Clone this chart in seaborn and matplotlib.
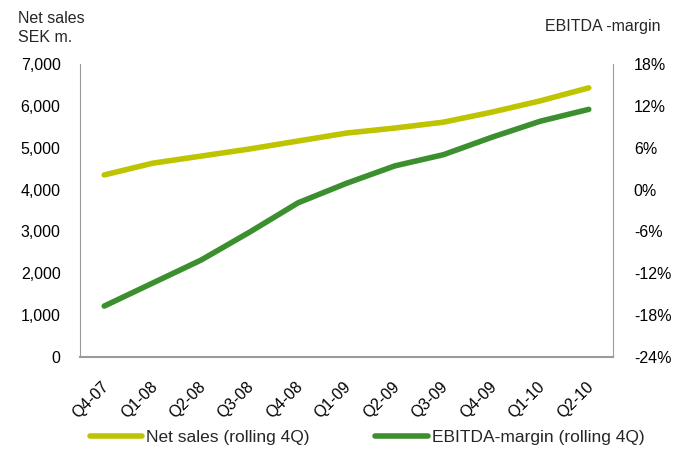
import matplotlib
matplotlib.use("Agg")
import matplotlib.pyplot as plt
import matplotlib.transforms as mtransforms
import seaborn as sns
import pandas as pd
from matplotlib.lines import Line2D
from matplotlib.ticker import FuncFormatter

quarters = ["Q4-07", "Q1-08", "Q2-08", "Q3-08", "Q4-08", "Q1-09",
            "Q2-09", "Q3-09", "Q4-09", "Q1-10", "Q2-10"]
net_sales = [4350, 4630, 4800, 4970, 5160, 5350, 5470, 5610, 5850, 6120, 6430]
ebitda_margin = [-16.7, -13.4, -10.1, -6.1, -1.9, 0.9, 3.4, 5.0, 7.5, 9.8, 11.5]

left_ticks = [0, 1000, 2000, 3000, 4000, 5000, 6000, 7000]
right_ticks = [-24, -18, -12, -6, 0, 6, 12, 18]

c_sales = "#BFC400"
c_ebit = "#3C8F2E"
grey = "#9A9A9A"
fs = 11.5

sns.set_style("white")
plt.rcParams["font.family"] = ["Liberation Sans", "DejaVu Sans"]

df = pd.DataFrame({"q": quarters, "sales": net_sales, "ebitda": ebitda_margin})
df["x"] = range(len(df))

fig = plt.figure(figsize=(6.74, 4.49), dpi=100)
ax = fig.add_axes([80/674, 92/449, 533/674, 293/449])
ax2 = ax.twinx()

sns.lineplot(data=df, x="x", y="sales", ax=ax, color=c_sales, linewidth=4,
             solid_capstyle="round")
sns.lineplot(data=df, x="x", y="ebitda", ax=ax2, color=c_ebit, linewidth=4,
             solid_capstyle="round")

ax.set_xlim(-0.5, len(quarters) - 0.5)
ax.set_ylim(0, 7000)
ax2.set_ylim(-24, 18)
ax.set_yticks(left_ticks)
ax2.set_yticks(right_ticks)
ax.yaxis.set_major_formatter(FuncFormatter(lambda v, p: f"{int(v):,}"))
ax2.yaxis.set_major_formatter(FuncFormatter(lambda v, p: f"{int(v)}%"))
ax.set_xticks(df["x"])
ax.set_xticklabels(quarters, rotation=45, ha="right", rotation_mode="anchor")

for a in (ax, ax2):
    a.set_xlabel("")
    a.set_ylabel("")
    a.grid(False)
    for s in a.spines.values():
        s.set_visible(False)
ax.spines["left"].set_visible(True)
ax.spines["left"].set_color(grey)
ax.spines["bottom"].set_visible(True)
ax.spines["bottom"].set_color(grey)
ax.spines["bottom"].set_linewidth(1.5)
ax2.spines["right"].set_visible(True)
ax2.spines["right"].set_color(grey)

ax.tick_params(axis="y", length=0, pad=14, labelsize=fs, colors="black")
ax2.tick_params(axis="y", length=0, pad=15, labelsize=fs, colors="black")
ax.tick_params(axis="x", length=0, pad=16, labelsize=fs, colors="black")

shift = mtransforms.ScaledTranslation(-3/100, 0, fig.dpi_scale_trans)
for lbl in ax.get_xticklabels():
    lbl.set_transform(lbl.get_transform() + shift)

fig.text(18/674, 1 - 28/449, "Net sales\nSEK m.", fontsize=fs, va="center",
         ha="left", linespacing=1.3)
fig.text(545/674, 1 - 26/449, "EBITDA -margin", fontsize=fs, va="center", ha="left")

handles = [Line2D([0], [0], color=c_sales, lw=4, solid_capstyle="round"),
           Line2D([0], [0], color=c_ebit, lw=4, solid_capstyle="round")]
fig.legend(handles, ["Net sales (rolling 4Q)", "EBITDA-margin (rolling 4Q)"],
           loc="center", bbox_to_anchor=(367/674, 1 - 437/449), ncol=2, frameon=False,
           fontsize=12.5, handlelength=3.0, handletextpad=0.25, columnspacing=3.8)

fig.savefig("out.png", dpi=100)
